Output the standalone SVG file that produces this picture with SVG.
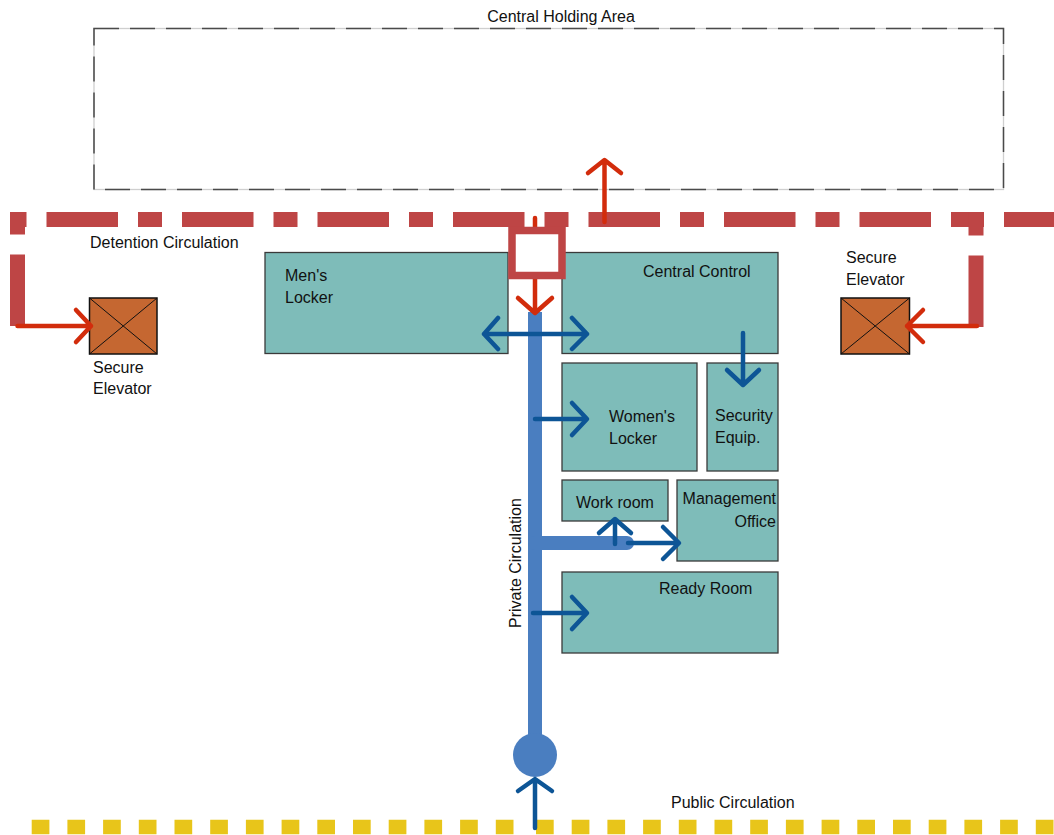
<svg xmlns="http://www.w3.org/2000/svg" width="1054" height="835" viewBox="0 0 1054 835">
<style>
text{font-family:"Liberation Sans",Arial,sans-serif;font-size:16px;fill:#111}
.room{fill:#7EBCB9;stroke:#3a3a3a;stroke-width:1.3}
.elev{fill:#C56731;stroke:#111;stroke-width:1.5}
.x{stroke:#111;stroke-width:1}
.det{fill:none;stroke:#BE4545;stroke-width:15;stroke-dasharray:71.5 20 24 20}
.pub{fill:none;stroke:#E8C51A;stroke-width:14.5;stroke-dasharray:17.7 18}
.ra{fill:none;stroke:#D22C0C;stroke-width:4.5;stroke-linecap:round;stroke-linejoin:round}
.ba{fill:none;stroke:#0D5596;stroke-width:4.5;stroke-linecap:round;stroke-linejoin:round}
.priv{fill:none;stroke:#4A7EC0;stroke-width:14}
</style>
<rect width="1054" height="835" fill="#fff"/>

<g id="central-holding">
<rect x="94" y="28.5" width="909.5" height="161" fill="#fff" stroke="#cfcfcf" stroke-width="1.3"/>
<rect x="94" y="28.5" width="909.5" height="161" fill="none" stroke="#4a4a4a" stroke-width="1.5" stroke-dasharray="25 11"/>
<text x="561" y="22" text-anchor="middle">Central Holding Area</text>
</g>

<g id="detention-label"><text x="90" y="248">Detention Circulation</text></g>
<g id="public-label"><text x="671" y="808">Public Circulation</text></g>
<g id="private-label"><text transform="translate(521 628) rotate(-90)">Private Circulation</text></g>

<g id="mens-locker">
<rect class="room" x="265" y="252.5" width="243" height="101"/>
<text x="285" y="281">Men's</text>
<text x="285" y="303">Locker</text>
</g>
<g id="central-control">
<rect class="room" x="562" y="252.5" width="216" height="101"/>
<text x="643" y="277">Central Control</text>
</g>
<g id="womens-locker">
<rect class="room" x="562" y="363" width="135" height="108"/>
<text x="609" y="422">Women's</text>
<text x="609" y="444">Locker</text>
</g>
<g id="security-equip">
<rect class="room" x="707" y="363" width="71" height="108"/>
<text x="715" y="421">Security</text>
<text x="715" y="443">Equip.</text>
</g>
<g id="work-room">
<rect class="room" x="562" y="480" width="106" height="41"/>
<text x="576" y="508">Work room</text>
</g>
<g id="management-office">
<rect class="room" x="677" y="480" width="101" height="81"/>
<text x="776" y="504" text-anchor="end">Management</text>
<text x="776" y="527" text-anchor="end">Office</text>
</g>
<g id="ready-room">
<rect class="room" x="562" y="572" width="216" height="81"/>
<text x="659" y="594">Ready Room</text>
</g>
<g id="elevator-left">
<rect class="elev" x="89.5" y="298" width="67.5" height="56"/>
<path class="x" d="M89.5 298 L157 354 M157 298 L89.5 354"/>
<text x="93" y="373">Secure</text>
<text x="93" y="394">Elevator</text>
</g>
<g id="elevator-right">
<rect class="elev" x="841" y="298" width="68.5" height="56"/>
<path class="x" d="M841 298 L909.5 354 M909.5 298 L841 354"/>
<text x="846" y="263">Secure</text>
<text x="846" y="285">Elevator</text>
</g>

<g id="connectors">
<path class="det" d="M17.5 326 V219.5 H976"/>
<path class="det" d="M976 327 V219.5 H1054"/>
<path class="pub" d="M31.7 827 H514"/>
<path class="pub" d="M536 827 H1054"/>
<path class="ra" d="M17.5 326 H91 M76 310 L91 326 L76 342"/>
<path class="ra" d="M977 326 H907 M923 310 L907 326 L923 342"/>
<path class="ra" d="M604.5 222 V161 M588 173 L604.5 160 L621 173"/>
<path class="ra" d="M535 218 V227"/>
<path class="priv" d="M535 312 V755"/>
<path class="priv" d="M535 543 H627" stroke-linecap="round"/>
<path class="priv" d="M535 543 H560"/>
<circle cx="535" cy="755" r="22" fill="#4A7EC0"/>
<path class="ra" d="M535 279 V312 M518 298 L535 313 L552 298"/>
<path class="ba" d="M484 334 H587 M498 318 L484 334 L498 349 M572 318 L587 334 L572 349"/>
<path class="ba" d="M743 333 V384 M727 370 L743 385 L759 370"/>
<path class="ba" d="M535 419 H586 M572 403 L587 419 L572 435"/>
<path class="ba" d="M615 544 V521 M599 533 L615 519 L631 533"/>
<path class="ba" d="M628 543 H678 M663 527 L679 543 L663 559"/>
<path class="ba" d="M533 613 H586 M572 597 L587 613 L572 629"/>
<path class="ba" d="M535 828 V780 M518 791 L535 779 L552 791"/>
</g>

<g id="control-box">
<rect x="512" y="230.5" width="50" height="45" fill="#fff" stroke="#BE4545" stroke-width="7.5"/>
</g>
</svg>
